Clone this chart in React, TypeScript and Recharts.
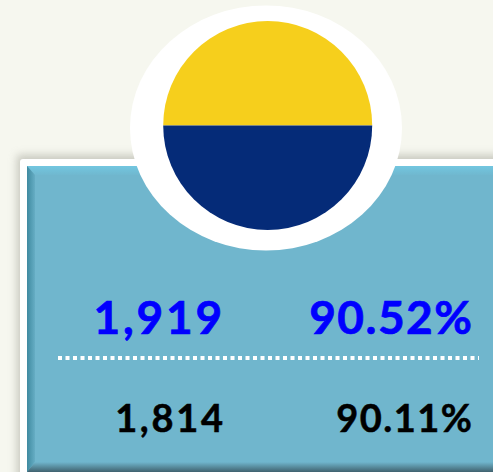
import React from 'react';
import { PieChart, Pie, Cell } from 'recharts';

const WIDTH = 493;
const HEIGHT = 472;

// flag in the badge at the top of the card
const flagBands = [
  { name: 'top', value: 50 },
  { name: 'bottom', value: 50 },
];
const flagColors = ['#f6cf1c', '#052b78'];

// figures in the card
const currentFigures = ['1,919', '90.52%'];
const previousFigures = ['1,814', '90.11%'];

const FONT = 'Lato, sans-serif';

export default function App() {
  return (
    <div style={{ position: 'absolute', left: 0, top: 0, width: WIDTH, height: HEIGHT, overflow: 'hidden', background: '#f6f7ef' }}>
      <PieChart width={WIDTH} height={HEIGHT} margin={{ top: 0, right: 0, bottom: 0, left: 0 }}>
        <defs>
          <filter id="cardBlur" x="-10%" y="-10%" width="120%" height="120%">
            <feGaussianBlur stdDeviation="4" />
          </filter>
          <linearGradient id="bevelLeft" x1="0" y1="0" x2="1" y2="0">
            <stop offset="0" stopColor="#3f8aa0" />
            <stop offset="1" stopColor="#66adc4" />
          </linearGradient>
          <linearGradient id="bevelBottom" x1="0" y1="0" x2="0" y2="1">
            <stop offset="0" stopColor="#70b6cd" />
            <stop offset="1" stopColor="#40626f" />
          </linearGradient>
          <linearGradient id="bevelTop" x1="0" y1="0" x2="0" y2="1">
            <stop offset="0" stopColor="#72c6e0" />
            <stop offset="1" stopColor="#70b8cf" />
          </linearGradient>
        </defs>
        {/* card frame and bevel */}
        <rect x={17} y={155} width={490} height={330} fill="#a8a89e" opacity={0.6} filter="url(#cardBlur)" />
        <rect x={20} y={159} width={480} height={320} fill="#ffffff" rx={3} />
        <rect x={27} y={166} width={470} height={306} fill="#70b6cd" />
        <polygon points="27,166 497,166 497,175 35,175" fill="url(#bevelTop)" />
        <polygon points="27,166 35,175 35,462 27,472" fill="url(#bevelLeft)" />
        <polygon points="27,472 35,462 497,462 497,472" fill="url(#bevelBottom)" />

        <ellipse cx={266} cy={128} rx={136} ry={122.5} fill="#ffffff" />
        <Pie
          data={flagBands}
          dataKey="value"
          cx={267.7}
          cy={125.5}
          innerRadius={0}
          outerRadius={104.5}
          startAngle={0}
          endAngle={360}
          stroke="none"
          isAnimationActive={false}
        >
          {flagBands.map((band, i) => (
            <Cell key={band.name} fill={flagColors[i]} />
          ))}
        </Pie>

        <text x={225} y={334} textAnchor="end" fontFamily={FONT} fontWeight={700} fontSize={46} letterSpacing={2.8} fill="#0000ff" stroke="#0000ff" strokeWidth={0.7}>{currentFigures[0]}</text>
        <text x={473.5} y={334} textAnchor="end" fontFamily={FONT} fontWeight={700} fontSize={46} letterSpacing={1.5} fill="#0000ff" stroke="#0000ff" strokeWidth={0.7}>{currentFigures[1]}</text>
        <line x1={58} y1={358} x2={479} y2={358} stroke="#ffffff" strokeWidth={4} strokeDasharray="4 3.5" />
        <text x={225.7} y={432} textAnchor="end" fontFamily={FONT} fontWeight={700} fontSize={38} letterSpacing={2.7} fill="#000000" stroke="#000000" strokeWidth={0.5}>{previousFigures[0]}</text>
        <text x={473.5} y={432} textAnchor="end" fontFamily={FONT} fontWeight={700} fontSize={38} letterSpacing={1.5} fill="#000000" stroke="#000000" strokeWidth={0.5}>{previousFigures[1]}</text>
      </PieChart>
    </div>
  );
}
